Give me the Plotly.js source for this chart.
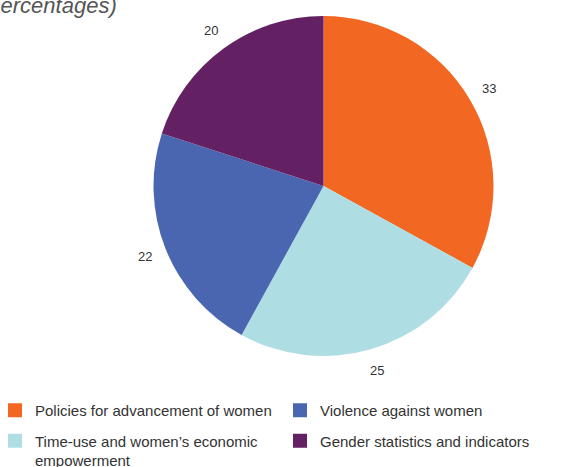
<!DOCTYPE html>
<html>
<head>
<meta charset="utf-8">
<script src="https://cdn.plot.ly/plotly-3.0.1.min.js"></script>
<style>html,body{margin:0;padding:0;background:#fff;}#chart{width:582px;height:467px;}</style>
</head>
<body>
<div id="chart"></div>
<script>
// Data
var categories = [
  "Policies for advancement of women",
  "Time-use and women\u2019s economic<br>empowerment",
  "Violence against women",
  "Gender statistics and indicators"
];
var shares = [33, 25, 22, 20];
var colors = ["#F26722", "#AEDEE3", "#4B66B0", "#632163"];
var legendColumn = ["legend", "legend", "legend2", "legend2"];
var titleText = "(percentages)";

var W = 582, H = 467;
var pieDomain = {x: [0.2629, 0.8488], y: [0.2377, 0.9657]};

var traces = [{
  type: "pie",
  labels: categories,
  values: shares,
  sort: false,
  direction: "clockwise",
  rotation: 0,
  marker: {colors: colors, line: {width: 0}},
  textinfo: "none",
  showlegend: false,
  hoverinfo: "label+value",
  domain: pieDomain
}];

categories.forEach(function (name, i) {
  traces.push({
    type: "scatter",
    mode: "markers",
    x: [null], y: [null],
    name: name,
    legend: legendColumn[i],
    legendgroup: "g" + i,
    marker: {symbol: "square", size: 14, color: colors[i]},
    showlegend: true,
    hoverinfo: "skip"
  });
});

// value labels placed outside each slice, at its mid-angle
var cx = (pieDomain.x[0] + pieDomain.x[1]) / 2 * W;
var cy = (1 - (pieDomain.y[0] + pieDomain.y[1]) / 2) * H;
var R = Math.min((pieDomain.x[1] - pieDomain.x[0]) * W, (pieDomain.y[1] - pieDomain.y[0]) * H) / 2;
var total = shares.reduce(function (a, b) { return a + b; }, 0);
var annotations = [];
var cum = 0;
shares.forEach(function (v) {
  var mid = (cum + v / 2) / total * 2 * Math.PI;
  cum += v;
  var d = R + 22;
  var px = cx + d * Math.sin(mid);
  var py = cy - d * Math.cos(mid);
  annotations.push({
    text: String(v),
    xref: "paper", yref: "paper",
    x: px / W, y: 1 - py / H,
    xanchor: "center", yanchor: "middle",
    showarrow: false,
    font: {size: 13, color: "#333"}
  });
});

annotations.push({
  text: titleText,
  xref: "paper", yref: "paper",
  x: -21 / W, xanchor: "left",
  y: 1.0, yanchor: "middle",
  yshift: -5,
  showarrow: false,
  font: {size: 22, color: "#555", style: "italic"}
});

var legendCommon = {
  orientation: "v",
  yanchor: "top",
  y: 1 - 394 / H,
  xanchor: "left",
  valign: "top",
  itemwidth: 30,
  traceorder: "grouped",
  tracegroupgap: 8,
  font: {size: 15, color: "#333"},
  bgcolor: "rgba(0,0,0,0)"
};

var layout = {
  width: W, height: H,
  margin: {l: 0, r: 0, t: 0, b: 0, autoexpand: false},
  paper_bgcolor: "#fff", plot_bgcolor: "rgba(0,0,0,0)",
  font: {family: "Liberation Sans, Arial, sans-serif", color: "#333"},
  xaxis: {visible: false, range: [0, 1], fixedrange: true},
  yaxis: {visible: false, range: [0, 1], fixedrange: true},
  showlegend: true,
  legend: Object.assign({}, legendCommon, {x: -5 / W}),
  legend2: Object.assign({}, legendCommon, {x: 280 / W}),
  annotations: annotations
};

Plotly.newPlot("chart", traces, layout, {displayModeBar: false, staticPlot: true});
</script>
</body>
</html>
